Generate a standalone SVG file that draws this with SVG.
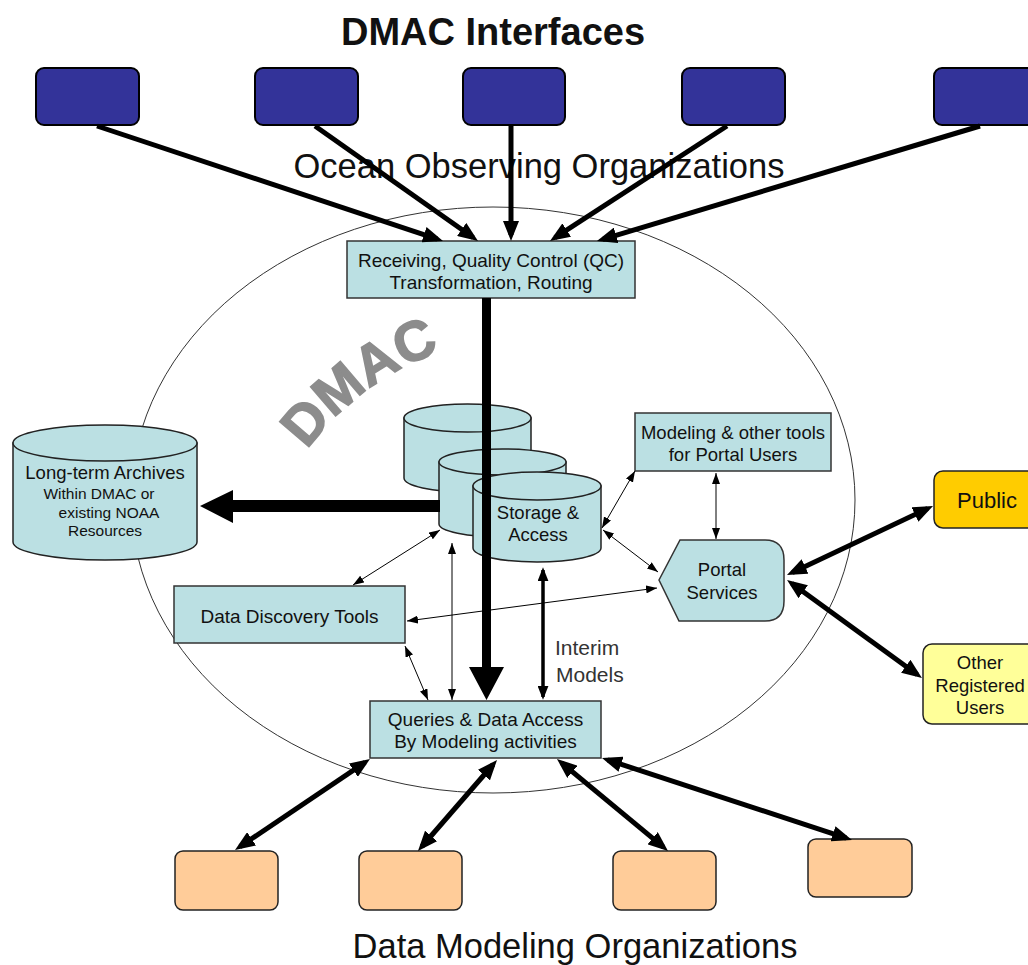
<svg xmlns="http://www.w3.org/2000/svg" width="1028" height="965" viewBox="0 0 1028 965">
<style>
text{font-family:"Liberation Sans",Arial,sans-serif;fill:#111}
.c{text-anchor:middle}
.box{fill:#bbe0e3;stroke:#333;stroke-width:1.5}
.cyl{fill:#bbe0e3;stroke:#222;stroke-width:1.5}
.org{fill:#333399;stroke:#000;stroke-width:2}
.mod{fill:#ffcc99;stroke:#222;stroke-width:1.5}
.t19{font-size:19px}
.t18{font-size:18.5px}
.big{font-size:34.5px}
.thin{stroke:#000;stroke-width:1;fill:none;marker-start:url(#hS);marker-end:url(#hS)}
.thick{stroke:#000;stroke-width:5;fill:none}
</style>
<defs>
<marker id="hS" viewBox="0 0 10 10" refX="10" refY="5" markerWidth="11" markerHeight="8" markerUnits="userSpaceOnUse" orient="auto-start-reverse" preserveAspectRatio="none"><path d="M0,0 L10,5 L0,10 z" fill="#000"/></marker>
<marker id="hT" viewBox="0 0 10 10" refX="7" refY="5" markerWidth="20" markerHeight="16" markerUnits="userSpaceOnUse" orient="auto-start-reverse" preserveAspectRatio="none"><path d="M0,0 L10,5 L0,10 z" fill="#000"/></marker>
<marker id="hM" viewBox="0 0 10 10" refX="8" refY="5" markerWidth="14" markerHeight="11" markerUnits="userSpaceOnUse" orient="auto-start-reverse" preserveAspectRatio="none"><path d="M0,0 L10,5 L0,10 z" fill="#000"/></marker>
<path id="dmacArc" d="M300,460 A280,280 0 0 1 452,348" fill="none"/>
</defs>

<text class="c" x="493" y="45" style="font-size:38px;font-weight:bold">DMAC Interfaces</text>

<g id="dmac-boundary">
<ellipse cx="493" cy="500" rx="362" ry="293" fill="none" stroke="#333" stroke-width="1"/>
<text style="font-size:56px;font-weight:bold;fill:#8c8c8c;stroke:#8c8c8c;stroke-width:1.5" text-anchor="middle"><textPath href="#dmacArc" startOffset="50%">DMAC</textPath></text>
</g>

<g id="ocean-orgs">
<rect class="org" x="36" y="68" width="103" height="57" rx="8"/>
<rect class="org" x="255" y="68" width="103" height="57" rx="8"/>
<rect class="org" x="463" y="68" width="102" height="57" rx="8"/>
<rect class="org" x="682" y="68" width="103" height="57" rx="8"/>
<rect class="org" x="934" y="68" width="106" height="57" rx="8"/>
<text class="c big" x="539" y="178">Ocean Observing Organizations</text>
</g>

<g id="qc">
<rect class="box" x="347" y="241" width="288" height="57"/>
<text class="c t19" x="491" y="267">Receiving, Quality Control (QC)</text>
<text class="c t19" x="491" y="289">Transformation, Routing</text>
</g>

<g id="archives">
<path class="cyl" d="M13,443 V542 A92,18 0 0 0 197,542 V443 Z"/>
<ellipse class="cyl" cx="105" cy="443" rx="92" ry="18"/>
<text class="c t18" x="105" y="479">Long-term Archives</text>
<text class="c" x="99" y="499" style="font-size:15.5px">Within DMAC or</text>
<text class="c" x="109" y="518" style="font-size:15.5px">existing NOAA</text>
<text class="c" x="105" y="536" style="font-size:15.5px">Resources</text>
</g>

<g id="storage">
<path class="cyl" d="M404,418 V478 A63.5,14 0 0 0 531,478 V418 Z"/>
<ellipse class="cyl" cx="467.5" cy="418" rx="63.5" ry="14"/>
<path class="cyl" d="M439,462 V524 A63.5,13 0 0 0 566,524 V462 Z"/>
<ellipse class="cyl" cx="502.5" cy="462" rx="63.5" ry="13"/>
<path class="cyl" d="M473,486 V548 A64,14 0 0 0 601,548 V486 Z"/>
<ellipse class="cyl" cx="537" cy="486" rx="64" ry="14"/>
<text class="c t18" x="538" y="519">Storage &amp;</text>
<text class="c t18" x="538" y="541">Access</text>
</g>

<g id="modeling-tools">
<rect class="box" x="635" y="413" width="196" height="58"/>
<text class="c t18" x="733" y="439">Modeling &amp; other tools</text>
<text class="c t18" x="733" y="461">for Portal Users</text>
</g>

<g id="portal">
<path class="box" d="M659,580 L680,540 L765,540 Q784,540 784,560 L784,601 Q784,621 765,621 L679,621 Z"/>
<text class="c t18" x="722" y="576">Portal</text>
<text class="c t18" x="722" y="599">Services</text>
</g>

<g id="discovery">
<rect class="box" x="174" y="586" width="231" height="57"/>
<text class="c t19" x="289.5" y="623">Data Discovery Tools</text>
</g>

<g id="queries">
<rect class="box" x="370" y="701" width="231" height="57"/>
<text class="c t19" x="485.5" y="726">Queries &amp; Data Access</text>
<text class="c t19" x="485.5" y="748">By Modeling activities</text>
</g>

<g id="public">
<rect x="934" y="471" width="110" height="57" rx="9" fill="#ffcc00" stroke="#222" stroke-width="1.5"/>
<text class="c" x="987" y="508" style="font-size:22px">Public</text>
</g>

<g id="other-users">
<rect x="923" y="644" width="120" height="80" rx="9" fill="#ffff99" stroke="#222" stroke-width="1.5"/>
<text class="c t18" x="980" y="669">Other</text>
<text class="c t18" x="980" y="692">Registered</text>
<text class="c t18" x="980" y="714">Users</text>
</g>

<g id="modeling-orgs">
<rect class="mod" x="175" y="851" width="103" height="59" rx="8"/>
<rect class="mod" x="359" y="851" width="103" height="59" rx="8"/>
<rect class="mod" x="613" y="851" width="103" height="59" rx="8"/>
<rect class="mod" x="808" y="839" width="104" height="58" rx="8"/>
<text class="c big" x="575" y="958">Data Modeling Organizations</text>
</g>

<g id="interim-label">
<text x="555" y="655" style="font-size:21px;fill:#333">Interim</text>
<text x="556" y="682" style="font-size:21px;fill:#333">Models</text>
</g>

<g id="connectors">
<line class="thick" x1="97" y1="126" x2="437.3" y2="239.1" marker-end="url(#hT)"/>
<line class="thick" x1="315" y1="126" x2="473.1" y2="237.5" marker-end="url(#hT)"/>
<line class="thick" x1="511" y1="126" x2="511" y2="235" marker-end="url(#hT)"/>
<line class="thick" x1="727" y1="126" x2="555" y2="237.7" marker-end="url(#hT)"/>
<line class="thick" x1="980" y1="126" x2="602.7" y2="239.3" marker-end="url(#hT)"/>

<path d="M482,298 L491,298 L491,667 L504,667 L486.5,700 L469,667 L482,667 Z" fill="#000"/>
<path d="M440,500 L233,500 L233,490 L200,506 L233,523 L233,512 L440,512 Z" fill="#000"/>

<line class="thin" x1="440" y1="530" x2="353" y2="585"/>
<line class="thin" x1="452" y1="543" x2="452" y2="700"/>
<line class="thin" x1="657" y1="588" x2="407" y2="621"/>
<line class="thin" x1="405" y1="646" x2="428" y2="700"/>
<line class="thin" x1="602" y1="528" x2="635" y2="471"/>
<line class="thin" x1="603" y1="530" x2="658" y2="572"/>
<line class="thin" x1="716" y1="473" x2="716" y2="539"/>

<line x1="543" y1="570" x2="543" y2="697" stroke="#000" stroke-width="3.5" marker-start="url(#hM)" marker-end="url(#hM)"/>

<line class="thick" x1="792.4" y1="572.4" x2="927.6" y2="508.6" marker-start="url(#hT)" marker-end="url(#hT)"/>
<line class="thick" x1="791.9" y1="583.5" x2="917.1" y2="674.5" marker-start="url(#hT)" marker-end="url(#hT)"/>

<line class="thick" x1="365" y1="762.4" x2="240" y2="846.6" marker-start="url(#hT)" marker-end="url(#hT)"/>
<line class="thick" x1="493.1" y1="764.5" x2="421.9" y2="846.5" marker-start="url(#hT)" marker-end="url(#hT)"/>
<line class="thick" x1="561.6" y1="762.8" x2="663.4" y2="847.2" marker-start="url(#hT)" marker-end="url(#hT)"/>
<line class="thick" x1="607.7" y1="759.9" x2="846.3" y2="838.1" marker-start="url(#hT)" marker-end="url(#hT)"/>
</g>
</svg>
